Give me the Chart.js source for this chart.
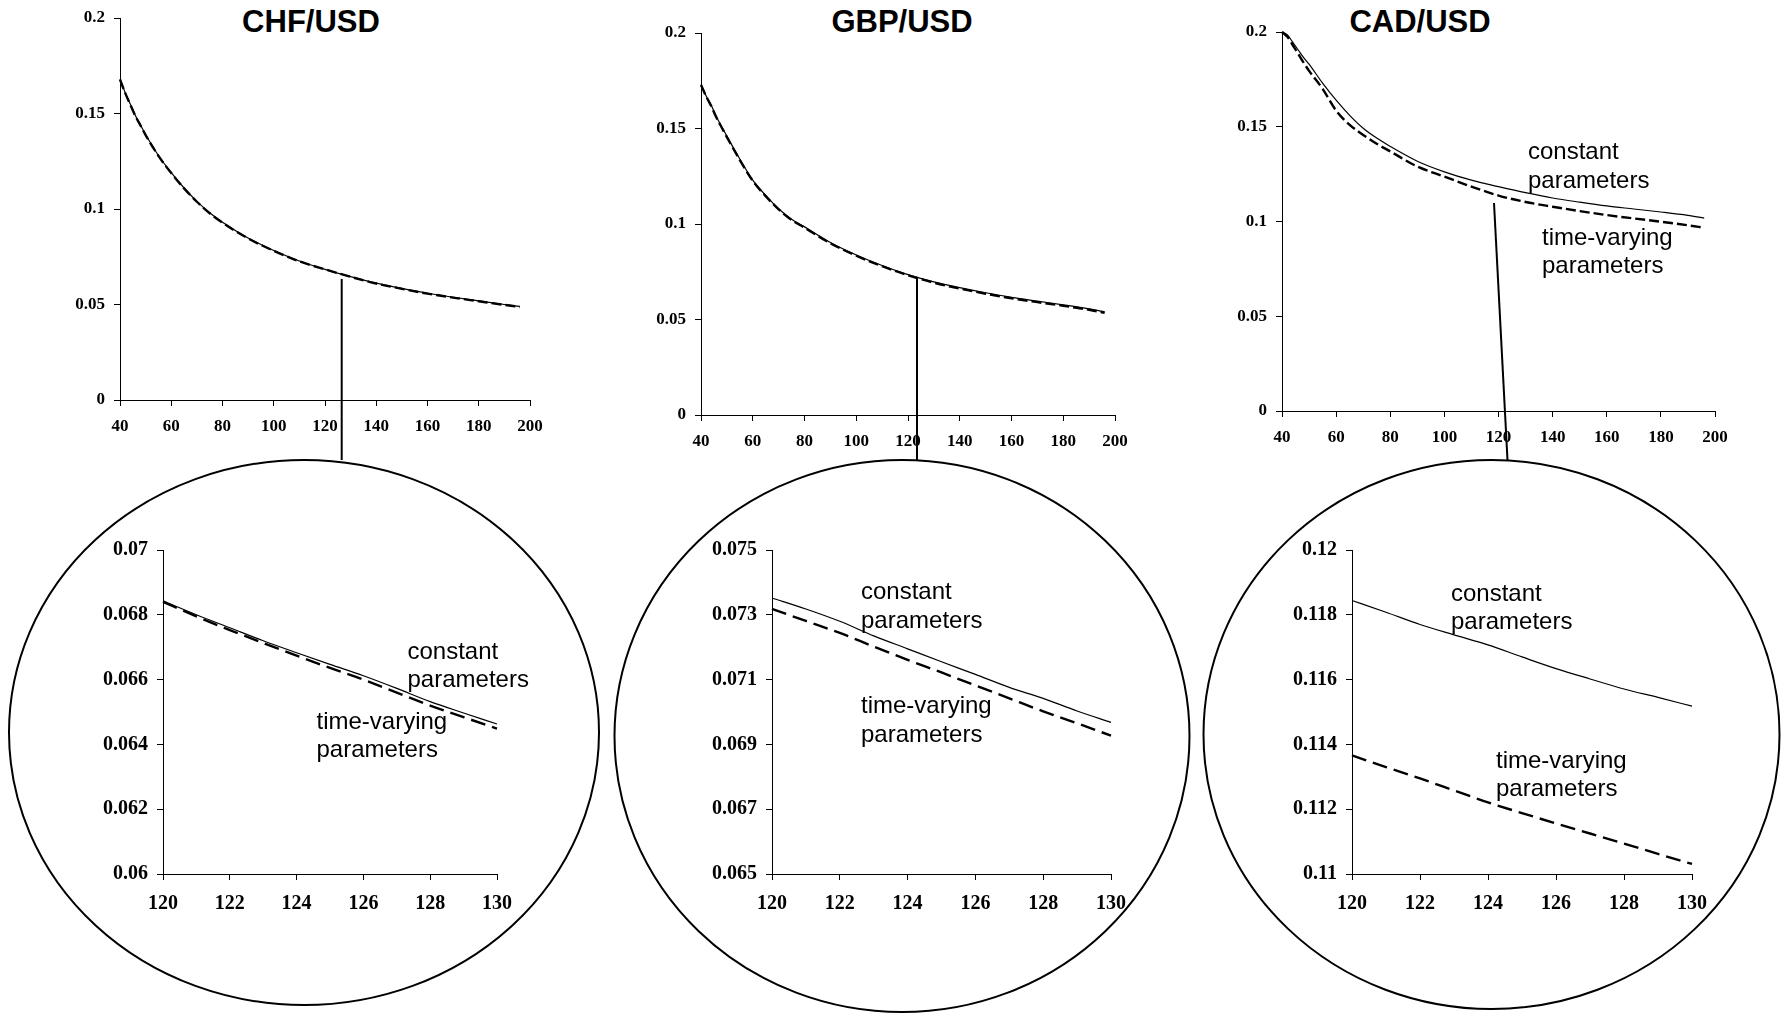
<!DOCTYPE html>
<html><head><meta charset="utf-8">
<script src="https://cdn.jsdelivr.net/npm/chart.js@4.4.0/dist/chart.umd.min.js"></script>
<style>
html,body{margin:0;padding:0;background:#fff;}
body{width:1785px;height:1016px;position:relative;overflow:hidden;}
canvas.c{position:absolute;}
.title{position:absolute;width:300px;text-align:center;font:bold 31px "Liberation Sans",Arial,sans-serif;line-height:31px;color:#000;}
.note{position:absolute;font:24px "Liberation Sans",Arial,sans-serif;line-height:28.5px;color:#000;white-space:nowrap;}
svg.ov{position:absolute;left:0;top:0;pointer-events:none;}
</style></head><body>

<div class="title" style="left:161px;top:6px;">CHF/USD</div>
<div class="title" style="left:752px;top:6px;">GBP/USD</div>
<div class="title" style="left:1270px;top:6px;">CAD/USD</div>

<canvas class="c" id="chfTop"></canvas>
<canvas class="c" id="gbpTop"></canvas>
<canvas class="c" id="cadTop"></canvas>
<canvas class="c" id="chfZoom"></canvas>
<canvas class="c" id="gbpZoom"></canvas>
<canvas class="c" id="cadZoom"></canvas>

<svg class="ov" width="1785" height="1016" viewBox="0 0 1785 1016">
  <g fill="none" stroke="#000" stroke-width="2">
    <ellipse cx="304" cy="732.5" rx="295" ry="272.5"/>
    <ellipse cx="902" cy="736" rx="287.5" ry="276"/>
    <ellipse cx="1491.5" cy="734.5" rx="288" ry="274.5"/>
    <line x1="341.7" y1="279" x2="341.7" y2="460"/>
    <line x1="917" y1="277" x2="917" y2="460"/>
    <line x1="1494" y1="203" x2="1507.5" y2="460"/>
  </g>
</svg>

<div class="note" style="left:1528px;top:137px;">constant<br>parameters</div>
<div class="note" style="left:1542px;top:222.5px;">time-varying<br>parameters</div>
<div class="note" style="left:407.5px;top:636.5px;">constant<br>parameters</div>
<div class="note" style="left:316.5px;top:706.5px;">time-varying<br>parameters</div>
<div class="note" style="left:861px;top:577px;">constant<br>parameters</div>
<div class="note" style="left:861px;top:691px;">time-varying<br>parameters</div>
<div class="note" style="left:1451px;top:578.5px;">constant<br>parameters</div>
<div class="note" style="left:1496px;top:745.5px;">time-varying<br>parameters</div>

<script>
// ---------- data ----------
const topX = [40,42,44,46,48,50,55,60,65,70,75,80,90,100,110,120,130,140,150,160,170,180,190,196];

const chfConstTop = [0.168,0.161,0.155,0.149,0.144,0.139,0.128,0.119,0.111,0.104,0.098,0.093,0.0848,0.0783,0.0728,0.0684,0.0646,0.0612,0.0584,0.0559,0.0538,0.0519,0.0500,0.0490];
const chfTvTop    = [0.1678,0.1608,0.1547,0.1487,0.1437,0.1387,0.1278,0.1188,0.1108,0.1038,0.0978,0.0928,0.0846,0.0781,0.0726,0.0684,0.0645,0.0610,0.0582,0.0557,0.0536,0.0517,0.0498,0.0487];

const gbpConstTop = [0.173,0.167,0.162,0.156,0.151,0.146,0.134,0.123,0.115,0.108,0.1025,0.0985,0.0903,0.0838,0.0783,0.0735,0.0697,0.0667,0.0640,0.0616,0.0596,0.0577,0.0556,0.0540];
const gbpTvTop    = [0.1728,0.1668,0.1616,0.1556,0.1505,0.1455,0.1335,0.1226,0.1146,0.1077,0.1021,0.0981,0.0899,0.0834,0.0779,0.0732,0.0693,0.0662,0.0635,0.0611,0.0591,0.0572,0.0551,0.0535];

const cadConstTop = [0.2000,0.1985,0.1945,0.1905,0.1865,0.1830,0.1730,0.1640,0.1560,0.1492,0.1440,0.1396,0.1318,0.1262,0.1218,0.1184,0.1152,0.1124,0.1102,0.1082,0.1066,0.1050,0.1032,0.1018];
const cadTvTop    = [0.2000,0.1975,0.1930,0.1885,0.1838,0.1795,0.1700,0.1585,0.1510,0.1457,0.1410,0.1370,0.1290,0.1237,0.1184,0.1137,0.1103,0.1078,0.1055,0.1034,0.1016,0.0999,0.0980,0.0967];

const zoomX = [120,121,122,123,124,125,126,127,128,129,130];

const chfConstZoom = [0.06843,0.06800,0.06760,0.06720,0.06683,0.06647,0.06612,0.06573,0.06532,0.06497,0.06463];
const chfTvZoom    = [0.06840,0.06795,0.06753,0.06713,0.06674,0.06636,0.06600,0.06560,0.06520,0.06484,0.06449];

const gbpConstZoom = [0.07352,0.07318,0.07280,0.07235,0.07195,0.07155,0.07116,0.07076,0.07042,0.07003,0.06968];
const gbpTvZoom    = [0.07318,0.07281,0.07244,0.07202,0.07161,0.07122,0.07082,0.07042,0.07002,0.06965,0.06927];

const cadConstZoom = [0.11844,0.11808,0.11770,0.11738,0.11707,0.11670,0.11634,0.11602,0.11571,0.11545,0.11518];
const cadTvZoom    = [0.11366,0.11330,0.11295,0.11258,0.11221,0.11188,0.11156,0.11125,0.11094,0.11062,0.11031];

// ---------- tick labels ----------
const topXTicks = [40,60,80,100,120,140,160,180,200];
const topXLabels = ['40','60','80','100','120','140','160','180','200'];
const topYTicks = [0,0.05,0.1,0.15,0.2];
const topYLabels = ['0','0.05','0.1','0.15','0.2'];

const zoomXTicks = [120,122,124,126,128,130];
const zoomXLabels = ['120','122','124','126','128','130'];
const chfZoomYTicks = [0.06,0.062,0.064,0.066,0.068,0.07];
const chfZoomYLabels = ['0.06','0.062','0.064','0.066','0.068','0.07'];
const gbpZoomYTicks = [0.065,0.067,0.069,0.071,0.073,0.075];
const gbpZoomYLabels = ['0.065','0.067','0.069','0.071','0.073','0.075'];
const cadZoomYTicks = [0.11,0.112,0.114,0.116,0.118,0.12];
const cadZoomYLabels = ['0.11','0.112','0.114','0.116','0.118','0.12'];

// ---------- chart builder ----------
function makeChart(id, box, cfg) {
  const W = 80, H = 50, PT = 14, PR = 34;
  const cv = document.getElementById(id);
  const pw = box.r - box.l, ph = box.b - box.t;
  cv.width = W + pw + PR; cv.height = PT + ph + H;
  cv.style.left = (box.l - W) + 'px';
  cv.style.top = (box.t - PT) + 'px';
  cv.style.width = cv.width + 'px'; cv.style.height = cv.height + 'px';
  const tickFont = {family: '"Liberation Serif", "Times New Roman", serif', weight: 'bold', size: cfg.fs};
  const mk = (xs, ys) => xs.map((x, i) => ({x: x, y: ys[i]}));
  return new Chart(cv, {
    type: 'line',
    data: {
      datasets: [
        {label: 'constant parameters', data: mk(cfg.xs, cfg.c), borderColor: '#000', borderWidth: 1.2,
         pointRadius: 0, fill: false, cubicInterpolationMode: 'monotone', clip: 6},
        {label: 'time-varying parameters', data: mk(cfg.xs, cfg.tv), borderColor: '#000', borderWidth: cfg.tw,
         borderDash: cfg.dash, pointRadius: 0, fill: false, cubicInterpolationMode: 'monotone', clip: 6}
      ]
    },
    options: {
      responsive: false, animation: false, devicePixelRatio: 1,
      layout: {padding: {top: PT, right: PR, left: 0, bottom: 0}},
      plugins: {legend: {display: false}, tooltip: {enabled: false}, title: {display: false}},
      events: [],
      scales: {
        x: {
          type: 'linear', position: 'bottom', min: cfg.xMin, max: cfg.xMax,
          afterBuildTicks: s => { s.ticks = cfg.xt.map(v => ({value: v})); },
          afterFit: s => { s.height = H; s.paddingLeft = 0; s.paddingRight = 0; },
          grid: {drawOnChartArea: false, drawTicks: true, tickLength: 6, color: '#000', lineWidth: 1},
          border: {display: true, color: '#000', width: 1},
          ticks: {font: tickFont, color: '#000', padding: cfg.xp, maxRotation: 0, autoSkip: false,
                  callback: (v, i) => cfg.xl[i]}
        },
        y: {
          type: 'linear', position: 'left', min: cfg.yMin, max: cfg.yMax,
          afterBuildTicks: s => { s.ticks = cfg.yt.map(v => ({value: v})); },
          afterFit: s => { s.width = W; s.paddingTop = 0; s.paddingBottom = 0; },
          grid: {drawOnChartArea: false, drawTicks: true, tickLength: 6, color: '#000', lineWidth: 1},
          border: {display: true, color: '#000', width: 1},
          ticks: {font: tickFont, color: '#000', padding: 9, autoSkip: false,
                  callback: (v, i) => cfg.yl[i]}
        }
      }
    }
  });
}

const topCommon = {xs: topX, xMin: 40, xMax: 200, yMin: 0, yMax: 0.2, xt: topXTicks, xl: topXLabels,
                   yt: topYTicks, yl: topYLabels, fs: 17, xp: 10, tw: 2.4, dash: [10, 4]};
const zoomCommon = {xs: zoomX, xMin: 120, xMax: 130, xt: zoomXTicks, xl: zoomXLabels,
                    fs: 20, xp: 12, tw: 2.4, dash: [15, 7]};

makeChart('chfTop', {l: 120, t: 18, r: 530, b: 400}, Object.assign({}, topCommon, {c: chfConstTop, tv: chfTvTop}));
makeChart('gbpTop', {l: 701, t: 33, r: 1115, b: 415}, Object.assign({}, topCommon, {c: gbpConstTop, tv: gbpTvTop}));
makeChart('cadTop', {l: 1282, t: 32, r: 1715, b: 411}, Object.assign({}, topCommon, {c: cadConstTop, tv: cadTvTop}));

makeChart('chfZoom', {l: 163, t: 550, r: 497, b: 874}, Object.assign({}, zoomCommon,
  {c: chfConstZoom, tv: chfTvZoom, yMin: 0.06, yMax: 0.07, yt: chfZoomYTicks, yl: chfZoomYLabels}));
makeChart('gbpZoom', {l: 772, t: 550, r: 1111, b: 874}, Object.assign({}, zoomCommon,
  {c: gbpConstZoom, tv: gbpTvZoom, yMin: 0.065, yMax: 0.075, yt: gbpZoomYTicks, yl: gbpZoomYLabels}));
makeChart('cadZoom', {l: 1352, t: 550, r: 1692, b: 874}, Object.assign({}, zoomCommon,
  {c: cadConstZoom, tv: cadTvZoom, yMin: 0.11, yMax: 0.12, yt: cadZoomYTicks, yl: cadZoomYLabels}));
</script>
</body></html>
